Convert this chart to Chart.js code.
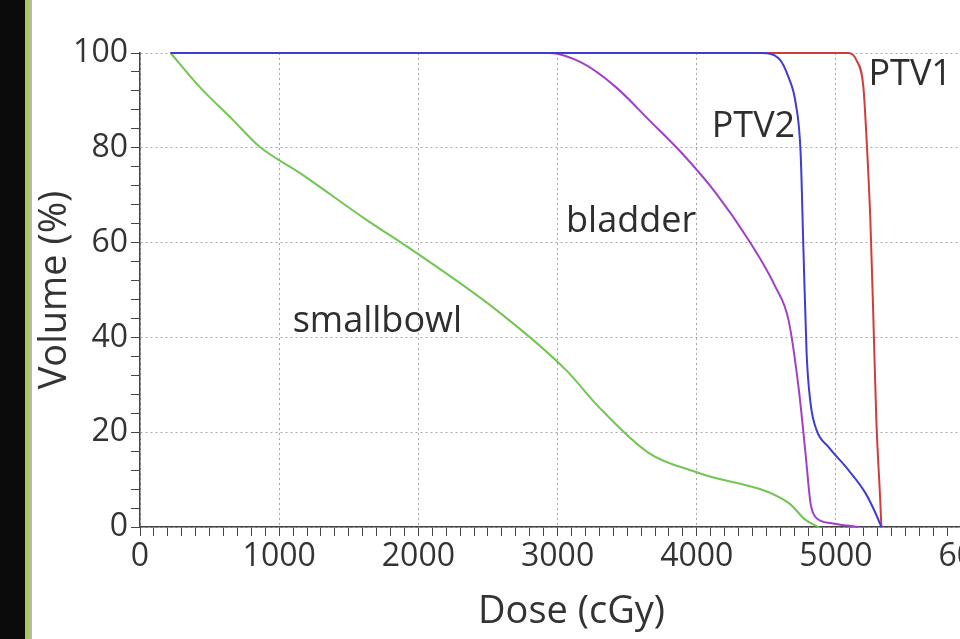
<!DOCTYPE html>
<html>
<head>
<meta charset="utf-8">
<script src="https://cdn.jsdelivr.net/npm/chart.js@4.4.1/dist/chart.umd.min.js"></script>
<style>
  html, body { margin: 0; padding: 0; background: #fff; overflow: hidden; }
  #wrap { position: relative; width: 960px; height: 639px; overflow: hidden; }
  #dvh { position: absolute; left: 0; top: 0; }
  /* dark strip on the left edge */
  #edge { position: absolute; left: 0; top: 0; width: 25px; height: 639px; background: #0b0b0b;
          border-right: 5px solid #a8c85a; box-shadow: 2px 0 0 #b8b8b0; }
</style>
</head>
<body>
<div id="wrap">
  <canvas id="dvh" width="1005" height="639"></canvas>
  <div id="edge"></div>
</div>
<script>
// dose (cGy) / volume (%)
const ptv1Dose = [220, 5090, 5147, 5197, 5219, 5247, 5269, 5290, 5319, 5326];
const ptv1Vol  = [100, 100, 98.5, 92.8, 82.3, 64.8, 43.7, 22.6, 5, 0];

const ptv2Dose = [220, 4466, 4588, 4659, 4710, 4746, 4767, 4789, 4817, 4860, 4946, 5090, 5211, 5283, 5326];
const ptv2Vol  = [100, 100, 98.9, 94.9, 89.5, 78.9, 57.8, 36.7, 26.2, 20.5, 16.9, 12, 7.2, 3, 0];

const bladderDose = [220, 2939, 3176, 3419, 3656, 3892, 4136, 4373, 4566, 4659, 4731, 4781, 4817, 4853, 4968, 5161];
const bladderVol  = [100, 100, 97.9, 92.8, 85.9, 78.9, 70.5, 60.5, 50.6, 43.7, 29.5, 15.6, 5.1, 2.1, 0.8, 0];

const bowelDose = [220, 430, 667, 860, 1147, 1627, 1957, 2559, 3061, 3297, 3656, 4014, 4659, 4781, 4875];
const bowelVol  = [100, 92.8, 85.9, 80.2, 74.7, 64.8, 58.4, 45.8, 33.1, 25.3, 15.6, 11.4, 5.1, 1.5, 0];

const curveNames = ['PTV1', 'PTV2', 'bladder', 'smallbowl'];
const curveColors = ['#d23c3c', '#3d3dd6', '#a040c8', '#72c652'];
// where each curve's name sits (dose, volume)
const labelDose = [5233, 4107, 3061, 1097];
const labelVol  = [95.4, 84.4, 64.3, 43.2];

function toPoints(xs, ys) {
    return xs.map((x, i) => ({ x: x, y: ys[i] }));
}

// first dataset is drawn on top: PTV2 over bladder over PTV1
const series = [
    toPoints(ptv2Dose, ptv2Vol),
    toPoints(bladderDose, bladderVol),
    toPoints(ptv1Dose, ptv1Vol),
    toPoints(bowelDose, bowelVol)
];
const seriesColor = [curveColors[1], curveColors[2], curveColors[0], curveColors[3]];

const curveLabels = {
    id: 'curveLabels',
    afterDatasetsDraw(chart) {
        const ctx = chart.ctx;
        const xs = chart.scales.x, ys = chart.scales.y;
        ctx.save();
        ctx.font = '36px "Open Sans", sans-serif';
        ctx.fillStyle = '#2e2e2e';
        ctx.textAlign = 'left';
        ctx.textBaseline = 'middle';
        curveNames.forEach((name, i) => {
            ctx.fillText(name, xs.getPixelForValue(labelDose[i]), ys.getPixelForValue(labelVol[i]));
        });
        ctx.restore();
    }
};

new Chart(document.getElementById('dvh'), {
    type: 'line',
    data: {
        datasets: series.map((pts, i) => ({
            data: pts,
            borderColor: seriesColor[i],
            borderWidth: 2,
            pointRadius: 0,
            fill: false,
            clip: false,
            cubicInterpolationMode: 'monotone'
        }))
    },
    options: {
        responsive: false,
        animation: false,
        devicePixelRatio: 1,
        layout: { padding: { top: 53, right: 0, left: 0, bottom: 0 } },
        plugins: { legend: { display: false }, tooltip: { enabled: false } },
        scales: {
            x: {
                type: 'linear',
                min: 0,
                max: 6200,
                afterFit(scale) { scale.height = 112; },
                ticks: {
                    stepSize: 100,
                    autoSkip: false,
                    maxRotation: 0,
                    padding: 2,
                    color: '#333',
                    font: { family: 'Open Sans', size: 32 },
                    callback: v => (v % 1000 === 0 ? String(v) : '')
                },
                grid: {
                    color: c => (c.tick && c.tick.value % 1000 === 0 ? '#a8a8a8' : 'rgba(0,0,0,0)'),
                    tickColor: '#444',
                    tickLength: 9,
                    lineWidth: 1
                },
                border: { display: true, color: '#444', width: 1.5, dash: [2, 3] },
                title: {
                    display: true,
                    text: 'Dose (cGy)',
                    color: '#333',
                    font: { family: 'Open Sans', size: 38 },
                    padding: { top: 0, bottom: 4 }
                }
            },
            y: {
                min: 0,
                max: 100,
                afterFit(scale) { scale.width = 140; },
                ticks: {
                    stepSize: 4,
                    autoSkip: false,
                    padding: 3,
                    color: '#333',
                    font: { family: 'Open Sans', size: 32 },
                    callback: v => (v % 20 === 0 ? String(v) : '')
                },
                grid: {
                    color: c => (c.tick && c.tick.value % 20 === 0 ? '#a8a8a8' : 'rgba(0,0,0,0)'),
                    tickColor: '#444',
                    tickLength: 9,
                    lineWidth: 1
                },
                border: { display: true, color: '#444', width: 1.5, dash: [2, 3] },
                title: {
                    display: true,
                    text: 'Volume (%)',
                    color: '#333',
                    font: { family: 'Open Sans', size: 38 },
                    padding: { top: 32, bottom: 0 }
                }
            }
        }
    },
    plugins: [curveLabels]
});
</script>
</body>
</html>
